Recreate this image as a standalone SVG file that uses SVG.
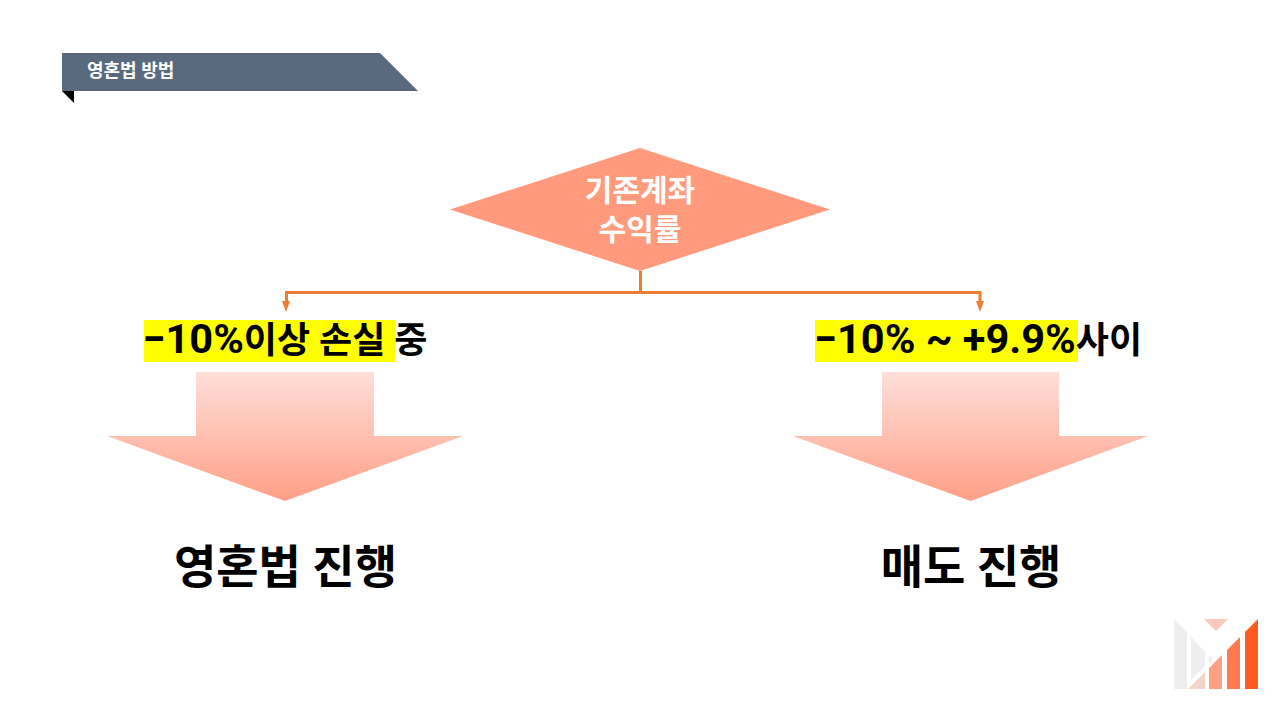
<svg xmlns="http://www.w3.org/2000/svg" width="1280" height="720" viewBox="0 0 1280 720">
<style>
text{font-family:Roboto,"Noto Sans CJK KR",sans-serif;font-weight:700;fill:#000}
.w{fill:#fff}
.big{font-size:46px}
.mid{font-size:36px}
.lat{font-size:41.500px}
.hl{fill:#ff0}
.conn{fill:none;stroke:#ed7d31;stroke-width:3}
.head{fill:#ed7d31}
</style>
<defs>
<linearGradient id="g" x1="0" y1="0" x2="0" y2="1"><stop offset="0" stop-color="#ffdfd9"/><stop offset="1" stop-color="#ff9f87"/></linearGradient>
</defs>
<rect width="1280" height="720" fill="#fff"/>
<g id="title">
<polygon points="62,91 74,91 74,103" fill="#000"/>
<polygon points="62,53 380,53 418,91 62,91" fill="#596a7f"/>
<text class="w" x="87" y="77" font-size="18">영혼법 방법</text>
</g>
<g id="connectors">
<path class="conn" d="M640.500 271V292.500H286.500V301"/>
<path class="conn" d="M640.500 271V292.500H980V301"/>
<polygon class="head" points="282,301 290,301 286,312"/>
<polygon class="head" points="976,301 984,301 980,312"/>
</g>
<g id="decision">
<polygon points="640,148 830,209.500 640,271 450,209.500" fill="#ff9b7c"/>
<text class="w" x="640" y="201" font-size="30" text-anchor="middle">기존계좌</text>
<text class="w" x="640" y="240" font-size="30" text-anchor="middle">수익률</text>
</g>
<g id="label-left">
<rect class="hl" x="144" y="320" width="251" height="42"/>
<text class="mid" x="142.500" y="353"><tspan class="lat">−10%</tspan>이상 손실 중</text>
</g>
<g id="label-right">
<rect class="hl" x="815" y="320" width="263" height="42"/>
<text class="mid" x="814" y="353"><tspan class="lat">−10% ~ +9.9%</tspan>사이</text>
</g>
<g id="arrow-left"><polygon fill="url(#g)" points="196,372 374,372 374,436 463,436 285,501 107,436 196,436"/></g>
<g id="arrow-right"><polygon fill="url(#g)" points="882,372 1059,372 1059,436 1148,436 970.500,501 793,436 882,436"/></g>
<g id="result-left"><text class="big" x="285.500" y="583" text-anchor="middle">영혼법 진행</text></g>
<g id="result-right"><text class="big" x="971" y="583" text-anchor="middle">매도 진행</text></g>
<g id="logo">
<polygon points="1174,619 1187,632 1187,689 1174,689" fill="#eeeeee"/>
<polygon points="1191,637 1205,652 1205,666 1191,680" fill="#eeeeee"/>
<polygon points="1209,656 1213,660 1209,664" fill="#eeeeee"/>
<polygon points="1204,619 1228,619 1216,631" fill="#fbcabb"/>
<polygon points="1188,689 1205,672 1205,689" fill="#f4d5cc"/>
<polygon points="1209,668 1222,655 1222,689 1209,689" fill="#ff9f84"/>
<polygon points="1227,650 1240,637 1240,689 1227,689" fill="#ff7a50"/>
<polygon points="1245,632 1258,619 1258,689 1245,689" fill="#ff5a22"/>
</g>
</svg>
